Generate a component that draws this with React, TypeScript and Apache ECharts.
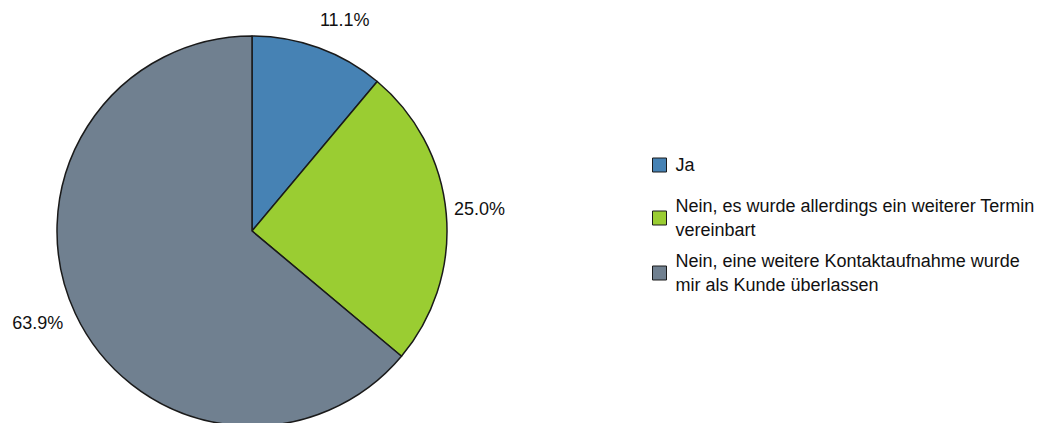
import React, { useEffect, useRef } from "react";
import * as echarts from "echarts";

const categories = [
  "Ja",
  "Nein, es wurde allerdings ein weiterer Termin vereinbart",
  "Nein, eine weitere Kontaktaufnahme wurde mir als Kunde überlassen",
];
const legendLines = [
  "Ja",
  "Nein, es wurde allerdings ein weiterer Termin\nvereinbart",
  "Nein, eine weitere Kontaktaufnahme wurde\nmir als Kunde überlassen",
];
const values = [11.1, 25.0, 63.9];
const colors = ["#4682B4", "#9ACD32", "#708090"];

const FONT = "'Liberation Sans', Arial, sans-serif";

export default function App() {
  const ref = useRef<HTMLDivElement>(null);
  useEffect(() => {
    if (!ref.current) return;
    const chart = echarts.init(ref.current, null, { renderer: "svg" });
    const lineCfg = [
      { length: 30, length2: -14 },
      { length: 55, length2: -52 },
      { length: 22, length2: -13 },
    ];
    const legendTops = [153, 182, 237];
    const legends = categories.map((c, i) => ({
      data: [c],
      orient: "vertical",
      left: 652,
      top: legendTops[i],
      padding: 0,
      itemWidth: 14,
      itemHeight: 14,
      icon: "rect",
      selectedMode: false,
      itemStyle: { borderColor: "#1a1a1a", borderWidth: 1 },
      formatter: (name: string) => legendLines[categories.indexOf(name)],
      textStyle: {
        fontFamily: FONT,
        fontSize: 18,
        lineHeight: 24,
        color: "#111",
        padding: i === 0 ? [0, 0, 0, 4] : [24, 0, 0, 4],
      },
    }));
    chart.setOption({
      animation: false,
      backgroundColor: "#fff",
      legend: legends,
      series: [
        {
          type: "pie",
          center: [252, 231],
          radius: 195,
          startAngle: 90,
          clockwise: true,
          avoidLabelOverlap: false,
          itemStyle: { borderColor: "#1a1a1a", borderWidth: 1.5 },
          label: {
            show: true,
            position: "outside",
            formatter: (p: any) => p.value.toFixed(1) + "%",
            fontFamily: FONT,
            fontSize: 18,
            color: "#111",
          },
          labelLine: { show: false },
          emphasis: { disabled: true },
          data: categories.map((c, i) => ({
            name: c,
            value: values[i],
            itemStyle: { color: colors[i] },
            labelLine: { show: false, ...lineCfg[i] },
          })),
        },
      ],
    });
    return () => chart.dispose();
  }, []);
  return (
    <div
      ref={ref}
      style={{ position: "fixed", left: 0, top: 0, width: 1053, height: 423 }}
    />
  );
}
